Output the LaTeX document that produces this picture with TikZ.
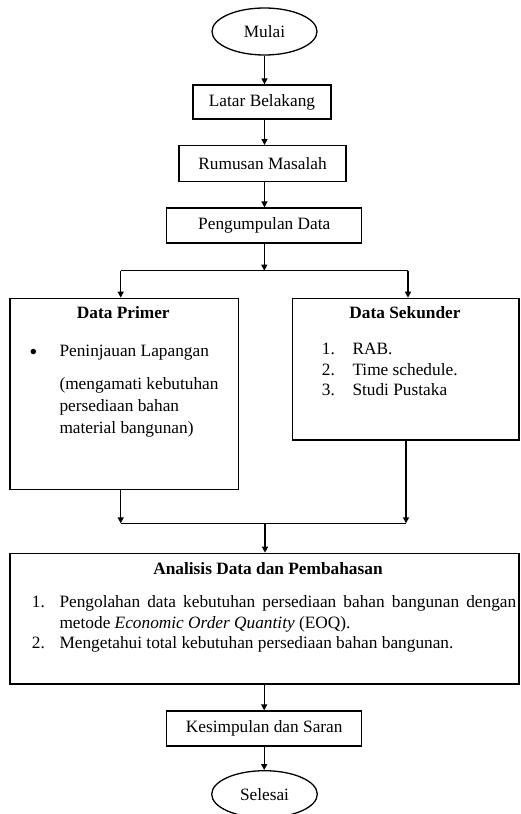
\documentclass[tikz,border=0pt]{standalone}
\usepackage{fontspec}
\setmainfont{Liberation Serif}
\usetikzlibrary{arrows.meta,shapes.geometric}
\begin{document}
\begin{tikzpicture}[x=1pt,y=-1pt,
  every node/.style={font=\fontsize{17.3}{21.5}\selectfont},
  box/.style={draw, line width=1.3pt, rectangle, inner sep=0pt},
  term/.style={draw, line width=1.3pt, ellipse, inner sep=0pt},
  txt/.style={inner sep=0pt, anchor=base west},
  ttl/.style={inner sep=0pt, anchor=base, font=\fontsize{17.3}{21.5}\selectfont\bfseries},
  arr/.style={line width=1.3pt, -{Triangle[length=6pt,width=6pt]}},
  ln/.style={line width=1.3pt},
  dot/.style={circle, fill, inner sep=0pt, minimum size=5.5pt}]
\useasboundingbox (0,0) rectangle (520,814);

% main column
\node[term, minimum width=105pt, minimum height=47pt] (mulai) at (264.5,31.5) {Mulai};
\node[box, minimum width=138pt, minimum height=34pt] (latar) at (262,102) {Latar Belakang};
\node[box, minimum width=167pt, minimum height=36pt] (rumus) at (262.5,163.7) {Rumusan Masalah};
\node[box, minimum width=195pt, minimum height=35pt] (peng) at (264.3,225.6) {Pengumpulan Data};

% data boxes
\node[box, minimum width=228.3pt, minimum height=191pt] (primer) at (124.2,393.8) {};
\node[box, minimum width=226.3pt, minimum height=141.7pt] (sek) at (405.9,369.2) {};

% analysis
\node[box, minimum width=509pt, minimum height=130.7pt] (anal) at (264.5,618.7) {};
\node[box, minimum width=195pt, minimum height=35pt] (kes) at (264.2,728.5) {Kesimpulan dan Saran};
\node[term, minimum width=105.6pt, minimum height=47pt] (sel) at (264.5,794.2) {Selesai};

% texts in Data Primer
\node[ttl] (ptitle) at (123.3,318) {Data Primer};
\node[dot] (pbul) at (33.3,351.5) {};
\node[txt] (p1) at (59.3,356) {Peninjauan Lapangan};
\node[txt] (p2) at (59.3,389.3) {(mengamati kebutuhan};
\node[txt] (p3) at (59.3,411.3) {persediaan bahan};
\node[txt] (p4) at (59.3,433) {material bangunan)};

% texts in Data Sekunder
\node[ttl] (stitle) at (405,318) {Data Sekunder};
\node[txt] (sn1) at (321.7,354) {1.};
\node[txt] (s1) at (352.3,354) {RAB.};
\node[txt] (sn2) at (321.7,375.7) {2.};
\node[txt] (s2) at (352.3,375.7) {Time schedule.};
\node[txt] (sn3) at (321.7,395.5) {3.};
\node[txt] (s3) at (352.3,395.5) {Studi Pustaka};

% texts in Analisis
\node[ttl] (atitle) at (268,574) {Analisis Data dan Pembahasan};
\node[txt] (an1) at (31.7,607.3) {1.};
\node[txt] (a1) at (59.3,607.3) {\makebox[456.7pt][s]{Pengolahan data kebutuhan persediaan bahan bangunan dengan}};
\node[txt] (a1b) at (59.3,628.3) {metode \textit{Economic Order Quantity} (EOQ).};
\node[txt] (an2) at (31.7,648.5) {2.};
\node[txt] (a2) at (59.3,648.5) {Mengetahui total kebutuhan persediaan bahan bangunan.};

% connectors
\draw[arr] (mulai.south) -- (mulai.south |- latar.north);
\draw[arr] (mulai.south |- latar.south) -- (mulai.south |- rumus.north);
\draw[arr] (mulai.south |- rumus.south) -- (mulai.south |- peng.north);

\coordinate (jtop) at (264.3,270.7);
\coordinate (jl) at (120.7,270.7);
\coordinate (jr) at (408,270.7);
\draw[arr] (peng.south) -- (jtop);
\draw[ln] (jl) -- (jr);
\draw[arr] (jl) -- (jl |- primer.north);
\draw[arr] (jr) -- (jr |- sek.north);

\coordinate (ml) at (120.7,523.3);
\coordinate (mr) at (406,523.3);
\coordinate (mc) at (265,523.3);
\draw[arr] (ml |- primer.south) -- (ml);
\draw[arr] (mr |- sek.south) -- (mr);
\draw[ln] (ml) -- (mr);
\draw[arr] (mc) -- (mc |- anal.north);
\draw[arr] (kes.north |- anal.south) -- (kes.north);
\draw[arr] (kes.south) -- (kes.south |- sel.north);
\end{tikzpicture}
\end{document}
